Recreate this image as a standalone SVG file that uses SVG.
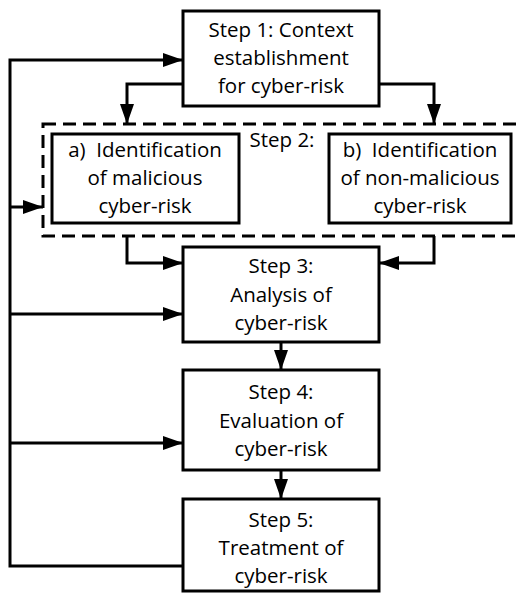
<svg xmlns="http://www.w3.org/2000/svg" width="516" height="593" viewBox="0 0 516 593">
<style>
.box{fill:#fff;stroke:#000;stroke-width:3}
.dash{fill:none;stroke:#000;stroke-width:3;stroke-dasharray:13 7}
.ln{fill:none;stroke:#000;stroke-width:3}
text{font-family:"Open Sans","DejaVu Sans",sans-serif;font-size:20.5px;fill:#000;text-anchor:middle}
</style>
<defs>
<marker id="ah" markerWidth="20" markerHeight="14" refX="20" refY="7" orient="auto" markerUnits="userSpaceOnUse">
<path d="M0,0 L20,7 L0,14 Z" fill="#000"/>
</marker>
</defs>
<rect width="516" height="593" fill="#fff"/>
<g id="step2group">
<rect class="dash" x="43" y="124" width="490" height="112"/>
<text x="282" y="147">Step 2:</text>
</g>
<g id="step1">
<rect class="box" x="183" y="11" width="196" height="95"/>
<text x="281" y="37">Step 1: Context</text>
<text x="281" y="65">establishment</text>
<text x="281" y="93">for cyber-risk</text>
</g>
<g id="step2a">
<rect class="box" x="52" y="134" width="187" height="89"/>
<text x="145" y="157" xml:space="preserve">a)  Identification</text>
<text x="145" y="185">of malicious</text>
<text x="145" y="213">cyber-risk</text>
</g>
<g id="step2b">
<rect class="box" x="329" y="134" width="182" height="89"/>
<text x="420" y="157" xml:space="preserve">b)  Identification</text>
<text x="420" y="185">of non-malicious</text>
<text x="420" y="213">cyber-risk</text>
</g>
<g id="step3">
<rect class="box" x="183" y="247" width="196" height="95"/>
<text x="281" y="273">Step 3:</text>
<text x="281" y="302">Analysis of</text>
<text x="281" y="330">cyber-risk</text>
</g>
<g id="step4">
<rect class="box" x="183" y="370" width="196" height="100"/>
<text x="281" y="399">Step 4:</text>
<text x="281" y="428">Evaluation of</text>
<text x="281" y="456">cyber-risk</text>
</g>
<g id="step5">
<rect class="box" x="183" y="499" width="196" height="92"/>
<text x="281" y="527">Step 5:</text>
<text x="281" y="555">Treatment of</text>
<text x="281" y="583">cyber-risk</text>
</g>
<g id="connectors">
<path class="ln" d="M183,84 H127 V124" marker-end="url(#ah)"/>
<path class="ln" d="M379,84 H434 V124" marker-end="url(#ah)"/>
<path class="ln" d="M127,236 V263 H183" marker-end="url(#ah)"/>
<path class="ln" d="M434,236 V263 H379" marker-end="url(#ah)"/>
<path class="ln" d="M281,342 V370" marker-end="url(#ah)"/>
<path class="ln" d="M281,470 V499" marker-end="url(#ah)"/>
<path class="ln" d="M183,566 H10 V60 H183" marker-end="url(#ah)"/>
<path class="ln" d="M10,207 H43" marker-end="url(#ah)"/>
<path class="ln" d="M10,314 H183" marker-end="url(#ah)"/>
<path class="ln" d="M10,443 H183" marker-end="url(#ah)"/>
</g>
</svg>
